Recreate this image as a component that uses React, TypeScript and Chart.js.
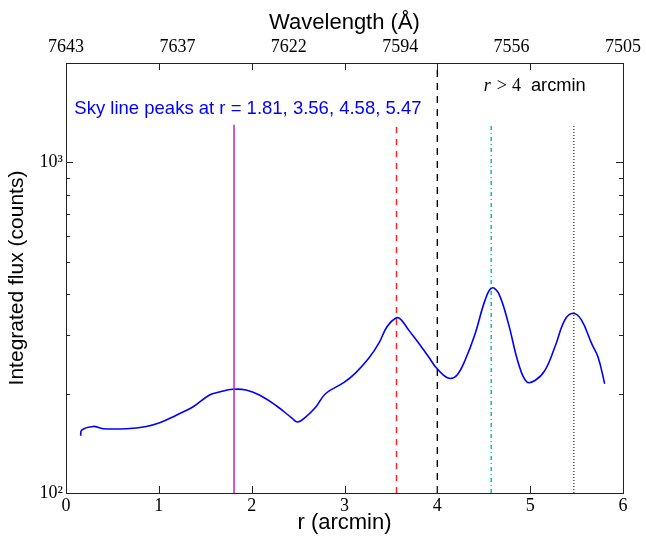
import React, { useEffect, useRef } from 'react';
import { Chart, registerables } from 'chart.js';

Chart.register(...registerables);

// ---- data ----
const rValues = [
  0.158, 0.169, 0.293, 0.4, 0.651, 0.866, 1.009, 1.188, 1.366, 1.546, 1.653, 1.796,
  1.94, 2.083, 2.262, 2.44, 2.493, 2.584, 2.691, 2.798, 2.995, 3.12, 3.263,
  3.37, 3.459, 3.549, 3.603, 3.692, 3.8, 3.907, 3.979, 4.068, 4.14, 4.211, 4.301,
  4.408, 4.515, 4.586, 4.658, 4.765, 4.873, 4.962, 5.052, 5.159, 5.267, 5.374,
  5.463, 5.552, 5.66, 5.731, 5.803,
];
const fluxValues = [
  149, 155, 159, 156.5, 156.5, 159, 163, 172, 182, 198, 202, 206,
  205, 198, 184, 168, 164, 170, 182, 200, 216, 231, 256,
  284, 319, 338, 336, 311, 284, 258, 241, 227, 222, 227, 253,
  304, 384, 417, 403, 326, 247, 217, 219, 235, 277, 334,
  350, 334, 284, 258, 214,
];
const peakRadii = [1.81, 3.56, 4.58, 5.47];
const peakLineTop = 1300;
const peakColors = ['#c020c0', '#ff2020', '#00c0c0', '#555555'];
const peakDashes: number[][] = [[], [6, 6], [4, 3, 1, 3], [1, 2]];
const regionBoundaryR = 4;

const xMin = 0;
const xMax = 6;
const xTicks = [0, 1, 2, 3, 4, 5, 6];
const wavelengthTickPositions = [0, 1.2, 2.4, 3.6, 4.8, 6];
const wavelengthLabels = ['7643', '7637', '7622', '7594', '7556', '7505'];

const yMin = 100;
const yMax = 2000;
const yMajorTicks = [100, 1000];
const yMajorLabels = ['10²', '10³'];
const yMinorTicks = [200, 300, 400, 500, 600, 700, 800, 900];

const skyText = 'Sky line peaks at r = 1.81, 3.56, 4.58, 5.47';
const skyTextAt = { r: 0.09, flux: 1400 };
const regionTextAt = { r: 4.5, flux: 1640 };

const SERIF = "'Liberation Serif', 'DejaVu Serif', serif";
const SANS = "'Liberation Sans', Arial, sans-serif";

const framePlugin = {
  id: 'frameTicks',
  afterDraw(chart: any) {
    const { ctx, chartArea: a, scales } = chart;
    const xs = scales.x;
    const ys = scales.y;
    ctx.save();
    ctx.strokeStyle = '#222';
    ctx.lineWidth = 1;
    ctx.beginPath();
    xTicks.forEach((v) => {
      const px = Math.round(xs.getPixelForValue(v)) + 0.5;
      ctx.moveTo(px, a.bottom);
      ctx.lineTo(px, a.bottom - 7);
      ctx.moveTo(px, a.top);
      ctx.lineTo(px, a.top + 7);
    });
    const yTick = (v: number, len: number) => {
      const py = Math.round(ys.getPixelForValue(v)) + 0.5;
      ctx.moveTo(a.left, py);
      ctx.lineTo(a.left + len, py);
      ctx.moveTo(a.right, py);
      ctx.lineTo(a.right - len, py);
    };
    yMajorTicks.forEach((v) => yTick(v, 7));
    yMinorTicks.forEach((v) => yTick(v, 4));
    ctx.stroke();

    // annotations
    ctx.textBaseline = 'alphabetic';
    ctx.textAlign = 'left';
    ctx.fillStyle = '#0000ff';
    ctx.font = `18.5px ${SANS}`;
    ctx.fillText(skyText, xs.getPixelForValue(skyTextAt.r), ys.getPixelForValue(skyTextAt.flux));

    let tx = xs.getPixelForValue(regionTextAt.r);
    const ty = ys.getPixelForValue(regionTextAt.flux);
    ctx.fillStyle = '#000';
    const parts: [string, string, number][] = [
      ['r', `italic 18px ${SERIF}`, 6],
      ['>', `18px ${SERIF}`, 5],
      ['4', `18px ${SERIF}`, 10],
      ['arcmin', `18.3px ${SANS}`, 0],
    ];
    parts.forEach(([t, f, gap]) => {
      ctx.font = f;
      ctx.fillText(t, tx, ty);
      tx += ctx.measureText(t).width + gap;
    });
    ctx.restore();
  },
};

export default function App() {
  const ref = useRef<HTMLCanvasElement>(null);
  useEffect(() => {
    const lineData = rValues.map((r, i) => ({ x: r, y: fluxValues[i] }));
    const datasets: any[] = [
      {
        data: lineData,
        borderColor: '#0000ff',
        borderWidth: 1.6,
        pointRadius: 0,
        showLine: true,
        tension: 0.4,
        order: 3,
      },
      {
        data: [
          { x: regionBoundaryR, y: yMin },
          { x: regionBoundaryR, y: yMax },
        ],
        borderColor: '#000',
        borderWidth: 1.4,
        borderDash: [7, 6],
        pointRadius: 0,
        showLine: true,
        order: 1,
      },
      ...peakRadii.map((r, i) => ({
        data: [
          { x: r, y: yMin },
          { x: r, y: peakLineTop },
        ],
        borderColor: peakColors[i],
        borderWidth: 1.5,
        borderDash: peakDashes[i],
        pointRadius: 0,
        showLine: true,
        order: 1,
      })),
    ];

    const chart = new Chart(ref.current!, {
      type: 'scatter',
      data: { datasets },
      options: {
        animation: false,
        responsive: false,
        devicePixelRatio: 1,
        layout: { padding: 0 },
        plugins: { legend: { display: false }, tooltip: { enabled: false } },
        scales: {
          x: {
            type: 'linear',
            position: 'bottom',
            min: xMin,
            max: xMax,
            afterBuildTicks: (s: any) => {
              s.ticks = xTicks.map((v) => ({ value: v }));
            },
            ticks: {
              font: { family: SERIF, size: 18 },
              color: '#000',
              padding: 2,
              maxRotation: 0,
              autoSkip: false,
              callback: (v: any) => String(v),
            },
            grid: { display: false, drawTicks: false },
            border: { display: true, color: '#222', width: 1 },
            title: {
              display: true,
              text: 'r (arcmin)',
              font: { family: SANS, size: 22 },
              color: '#000',
              padding: { top: 0, bottom: 0 },
            },
            afterFit: (s: any) => {
              s.height = 43;
            },
          },
          x2: {
            type: 'linear',
            position: 'top',
            min: xMin,
            max: xMax,
            afterBuildTicks: (s: any) => {
              s.ticks = wavelengthTickPositions.map((v) => ({ value: v }));
            },
            ticks: {
              font: { family: SERIF, size: 18 },
              color: '#000',
              padding: 5,
              maxRotation: 0,
              autoSkip: false,
              callback: (v: any, i: number) => wavelengthLabels[i],
            },
            grid: { display: false, drawTicks: false },
            border: { display: true, color: '#222', width: 1 },
            title: {
              display: true,
              text: 'Wavelength (Å)',
              font: { family: SANS, size: 22 },
              color: '#000',
              padding: { top: 10, bottom: 0 },
            },
            afterFit: (s: any) => {
              s.height = 63;
            },
          },
          y: {
            type: 'logarithmic',
            position: 'left',
            min: yMin,
            max: yMax,
            afterBuildTicks: (s: any) => {
              s.ticks = yMajorTicks.map((v) => ({ value: v, major: true }));
            },
            ticks: {
              font: { family: SERIF, size: 18 },
              color: '#000',
              padding: 3,
              autoSkip: false,
              callback: (v: any) => yMajorLabels[yMajorTicks.indexOf(Number(v))],
            },
            grid: { display: false, drawTicks: false },
            border: { display: true, color: '#222', width: 1 },
            title: {
              display: true,
              text: 'Integrated flux (counts)',
              font: { family: SANS, size: 21 },
              color: '#000',
              padding: { top: 5, bottom: 0 },
            },
            afterFit: (s: any) => {
              s.width = 66;
            },
          },
          y2: {
            type: 'logarithmic',
            position: 'right',
            min: yMin,
            max: yMax,
            ticks: { display: false },
            grid: { display: false, drawTicks: false },
            border: { display: true, color: '#222', width: 1 },
            afterFit: (s: any) => {
              s.width = 21;
            },
          },
        },
      } as any,
      plugins: [framePlugin],
    });
    return () => chart.destroy();
  }, []);

  return (
    <div style={{ position: 'absolute', left: 0, top: 0, width: 646, height: 536, background: '#fff' }}>
      <canvas ref={ref} width={646} height={536} style={{ display: 'block', width: 646, height: 536 }} />
    </div>
  );
}
